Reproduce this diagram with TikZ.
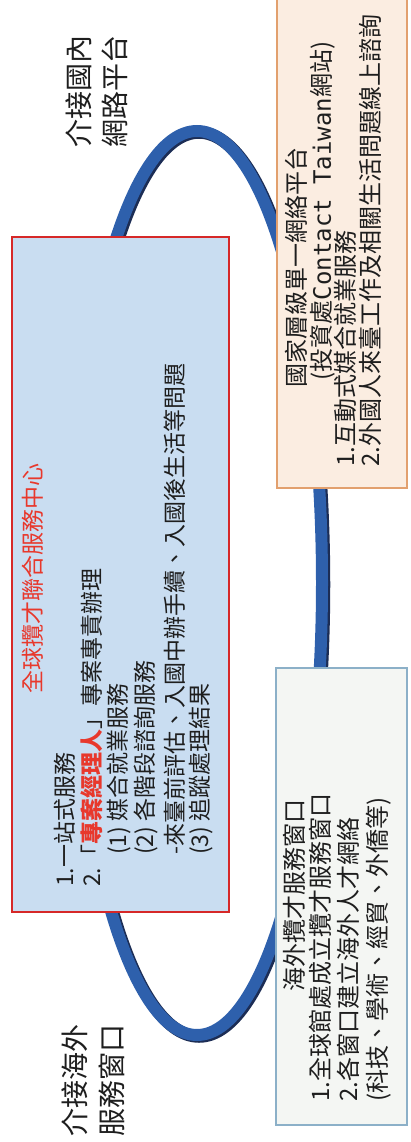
\documentclass[tikz,border=0pt]{standalone}
\usepackage{fontspec}
\setmainfont{Noto Sans CJK TC}
\newfontfamily\latinmono{DejaVu Sans Mono}

\definecolor{hubfill}{RGB}{201,221,241}
\definecolor{hubedge}{RGB}{214,40,40}
\definecolor{titlered}{RGB}{232,56,44}
\definecolor{webfill}{RGB}{251,237,225}
\definecolor{webedge}{RGB}{226,160,110}
\definecolor{overfill}{RGB}{244,246,243}
\definecolor{overedge}{RGB}{140,176,200}
\definecolor{ringblue}{RGB}{46,96,172}
\definecolor{ringdark}{RGB}{28,45,85}
\definecolor{ink}{RGB}{30,30,30}

\tikzset{
  box/.style={draw, line width=1.3pt, inner sep=0pt},
  txt/.style={rotate=90, inner sep=0pt, text=ink, text height=0.88em, text depth=0.12em},
  hubtxt/.style={txt, font=\fontsize{23}{27}\selectfont},
  sidetxt/.style={txt, font=\fontsize{24}{28}\selectfont},
  linktxt/.style={txt, font=\fontsize{28}{32}\selectfont},
}

\begin{document}
\begin{tikzpicture}[x=1pt, y=-1pt]
\useasboundingbox (0,0) rectangle (410,1142);

% Ring
\draw[ringdark, line width=12.5pt] (199,584.5) ellipse [x radius=125, y radius=452];
\draw[ringblue, line width=12pt] (197,583) ellipse [x radius=125, y radius=452];

% Boxes
\node[box, draw=hubedge, fill=hubfill, minimum width=217pt, minimum height=675pt] (hub) at (120.5,574.5) {};
\node[box, draw=webedge, fill=webfill, minimum width=130pt, minimum height=489pt] (web) at (342,243.5) {};
\node[box, draw=overedge, fill=overfill, minimum width=131pt, minimum height=457pt] (overseas) at (341.5,896.5) {};

% Centre text
\node[hubtxt, text=titlered] (hub-title) at (38,578) {全球攬才聯合服務中心};
\foreach \c/\s/\t [count=\i] in {
    70/887/{1.一站式服務},
    97/887/{2.「\textcolor{titlered}{\bfseries 專案經理人}」專案專責辦理},
    123/855/{(1) 媒合就業服務},
    150/855/{(2) 各階段諮詢服務},
    180/855/{-來臺前評估、入國中辦手續、入國後生活等問題},
    205/855/{(3) 追蹤處理結果}}
  \node[hubtxt, anchor=west] (hub-\i) at (\c,\s) {\t};

% Web platform text
\node[sidetxt] (web-title) at (302,267) {國家層級單一網絡平台};
\node[sidetxt] (web-sub) at (327,211) {(投資處{\latinmono Contact Taiwan}網站)};
\foreach \c/\t [count=\i] in {
    351/{1.互動式媒合就業服務},
    376/{2.外國人來臺工作及相關生活問題線上諮詢}}
  \node[sidetxt, anchor=west] (web-\i) at (\c,467) {\t};

% Overseas text
\node[sidetxt] (overseas-title) at (300,895) {海外攬才服務窗口};
\foreach \c/\t [count=\i] in {
    326/{1.全球館處成立攬才服務窗口},
    354/{2.各窗口建立海外人才網絡},
    383/{(科技、學術、經貿、外僑等)}}
  \node[sidetxt, anchor=west] (overseas-\i) at (\c,1102) {\t};

% Link labels
\node[linktxt, anchor=west] (dom-1) at (86,148) {介接國內};
\node[linktxt, anchor=west] (dom-2) at (122,148) {網路平台};
\node[linktxt, anchor=west] (ext-1) at (82,1137) {介接海外};
\node[linktxt, anchor=west] (ext-2) at (119,1137) {服務窗口};

\end{tikzpicture}
\end{document}
